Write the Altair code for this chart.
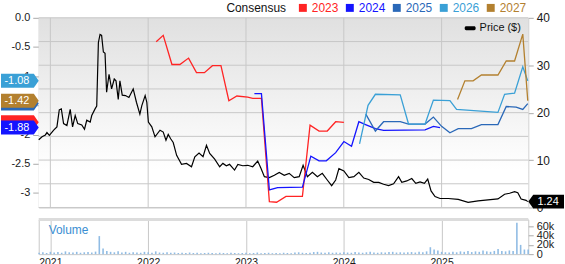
import altair as alt
import pandas as pd

FONT = "Liberation Sans"
GRID = "#c8c8c8"

# ---------------- data ----------------
price_year = [2020.881, 2020.915, 2020.949, 2020.965, 2020.990, 2021.034, 2021.067, 2021.091, 2021.112, 2021.135,
              2021.169, 2021.203, 2021.227, 2021.254, 2021.280, 2021.321, 2021.349, 2021.372, 2021.407, 2021.423,
              2021.457, 2021.474, 2021.491, 2021.508, 2021.524, 2021.542, 2021.559, 2021.575, 2021.600, 2021.626,
              2021.653, 2021.671, 2021.694, 2021.711, 2021.735, 2021.768, 2021.803, 2021.847, 2021.880, 2021.915,
              2021.935, 2021.969, 2021.986, 2022.002, 2022.037, 2022.070, 2022.121, 2022.154, 2022.182, 2022.205,
              2022.230, 2022.256, 2022.291, 2022.341, 2022.392, 2022.443, 2022.477, 2022.520, 2022.561, 2022.596,
              2022.629, 2022.680, 2022.731, 2022.764, 2022.799, 2022.832, 2022.883, 2022.917, 2022.967, 2023.018,
              2023.069, 2023.120, 2023.154, 2023.188, 2023.239, 2023.290, 2023.340, 2023.391, 2023.442, 2023.493,
              2023.544, 2023.584, 2023.628, 2023.679, 2023.730, 2023.780, 2023.831, 2023.876, 2023.917, 2023.950,
              2024.001, 2024.052, 2024.103, 2024.154, 2024.204, 2024.255, 2024.306, 2024.357, 2024.407, 2024.458,
              2024.509, 2024.560, 2024.593, 2024.644, 2024.695, 2024.736, 2024.780, 2024.824, 2024.858, 2024.892,
              2024.933, 2024.984, 2025.068, 2025.170, 2025.271, 2025.373, 2025.474, 2025.576, 2025.644, 2025.695,
              2025.746, 2025.779, 2025.813, 2025.864, 2025.881]
price = [14.3, 14.9, 15.3, 15.8, 15.2, 16.3, 17.0, 20.6, 20.8, 17.7,
         17.3, 20.7, 17.0, 19.4, 17.7, 17.4, 16.5, 18.4, 18.0, 19.4,
         20.8, 21.4, 34.8, 36.5, 36.3, 32.8, 32.5, 24.3, 28.1, 25.0,
         27.1, 26.7, 22.8, 26.7, 23.7, 23.6, 23.2, 25.0, 22.2, 19.7,
         21.5, 23.6, 22.2, 18.0, 17.0, 14.9, 16.3, 15.9, 14.2, 15.4,
         14.5, 13.7, 11.0, 9.1, 9.3, 8.6, 10.7, 11.5, 10.7, 13.1,
         11.4, 10.2, 8.6, 9.3, 8.8, 9.1, 7.9, 9.1, 8.8, 8.9,
         8.6, 9.8, 8.2, 6.5, 6.3, 6.8, 7.4, 6.8, 7.2, 6.3,
         6.5, 8.9, 6.5, 7.4, 6.5, 7.2, 5.8, 4.6, 5.8, 8.2,
         7.7, 6.3, 6.5, 7.4, 6.2, 5.9, 5.3, 5.3, 4.9, 4.6,
         5.0, 6.5, 5.3, 5.6, 6.1, 5.1, 5.4, 5.1, 6.0, 3.5,
         2.3, 1.9, 1.9, 1.7, 1.1, 1.4, 1.6, 1.8, 2.8, 3.0,
         3.35, 3.1, 1.8, 1.5, 1.24]

series_names = ["2023", "2024", "2025", "2026", "2027"]
series_colors = ["#ff2424", "#1414ff", "#2a68b8", "#3aa0d6", "#b3802f"]
badge_label_shown = [False, True, False, True, True]   # 2023 / 2025 badges sit behind others

eps23_year = [2022.082, 2022.154, 2022.243, 2022.324, 2022.413, 2022.494, 2022.575, 2022.657, 2022.744, 2022.825,
              2022.907, 2023.018, 2023.069, 2023.158, 2023.239, 2023.313, 2023.409, 2023.577, 2023.655, 2023.747,
              2023.831, 2023.917, 2024.001]
eps23 = [-0.41, -0.30, -0.80, -0.80, -0.69, -0.94, -0.94, -0.82, -0.82, -1.42,
         -1.34, -1.36, -1.38, -1.38, -3.15, -3.16, -3.06, -3.06, -1.84, -1.94,
         -1.94, -1.78, -1.79]
eps24_year = [2023.086, 2023.158, 2023.239, 2023.323, 2023.577, 2023.663, 2023.747, 2023.821, 2023.917, 2024.001,
              2024.079, 2024.154, 2024.222, 2024.323, 2024.407, 2024.831, 2024.916, 2024.984]
eps24 = [-1.30, -1.30, -2.95, -2.91, -2.90, -2.37, -2.45, -2.45, -2.31, -2.12,
         -2.20, -1.78, -1.83, -1.90, -1.93, -1.92, -1.86, -1.88]
eps25_year = [2024.225, 2024.323, 2024.407, 2024.577, 2024.662, 2024.831, 2024.916, 2025.000, 2025.085, 2025.170,
              2025.305, 2025.407, 2025.576, 2025.661, 2025.762, 2025.830, 2025.881]
eps25 = [-1.65, -1.94, -1.78, -1.78, -1.82, -1.82, -1.70, -1.86, -1.97, -1.90,
         -1.90, -1.83, -1.83, -1.52, -1.53, -1.57, -1.47]
eps26_year = [2024.161, 2024.248, 2024.323, 2024.577, 2024.662, 2024.831, 2024.916, 2025.085, 2025.153, 2025.576,
              2025.644, 2025.746, 2025.830, 2025.881]
eps26 = [-2.16, -1.50, -1.31, -1.32, -1.82, -1.82, -1.41, -1.42, -1.57, -1.62,
         -1.31, -1.29, -0.84, -1.08]
eps27_year = [2025.163, 2025.238, 2025.322, 2025.407, 2025.576, 2025.661, 2025.746, 2025.830, 2025.881]
eps27 = [-1.40, -1.08, -1.08, -0.98, -0.98, -0.74, -0.74, -0.28, -1.42]

# biweekly volume, starting late 2020
volume = [3000, 4000, 2500, 5000, 3500, 4500, 3000, 6000, 4000, 3500, 5000, 3000, 4000, 4500, 3500, 5500,
          39000, 12000, 7000, 5000, 4000, 6000, 3500, 5000, 3000, 4000, 3500, 3000, 5000, 4000, 3000, 6000,
          3500, 3000, 4000, 3000, 3500, 2500, 3000, 2500, 3500, 2500, 3000, 2000, 2500, 3000, 2500, 2000,
          3000, 2500, 2000, 3000, 2500,
          2000, 2500, 3000, 2000, 2500, 3500, 2000, 2500, 3000, 2000, 2500, 2000, 3000, 2500, 2000, 3500,
          4000, 3000, 2500, 3000, 4500, 5000, 3500, 3000, 4000, 3000,
          3500, 3000, 4000, 3500, 3000, 4500, 3500, 3000, 4000, 5000, 3500, 3000, 4000, 3500, 4500, 5000,
          3500, 4000, 3500, 4000, 4500, 3500, 5000, 4000, 6000,
          15000, 10000, 8000, 5000, 4000, 3500, 5000, 4000, 6000, 5000, 7000, 4500, 6000, 5000, 8000, 6000,
          5000, 7000, 11000, 7000, 6000, 8000, 7000, 68000, 20000, 10000, 10000]
vol_start = 2020.885
year_ticks = [2021, 2022, 2023, 2024, 2025]
price_ticks = [0, 5, 10, 15, 20, 25, 30, 35, 40]
eps_ticks = [0, -0.5, -1, -1.5, -2, -2.5, -3]
vol_ticks = [0, 20000, 40000, 60000]

# ---------------- frames ----------------
price_df = pd.DataFrame({"yr": price_year, "price": price})
eps_sets = [(eps23_year, eps23), (eps24_year, eps24), (eps25_year, eps25), (eps26_year, eps26), (eps27_year, eps27)]
eps_df = pd.concat([pd.DataFrame({"yr": y, "eps": v, "series": n, "order": range(len(v))})
                    for (y, v), n in zip(eps_sets, series_names)], ignore_index=True)
vol_df = pd.DataFrame({"yr": [vol_start + i / 26 for i in range(len(volume))], "vol": volume})
one = pd.DataFrame({"a": [0]})
yt_df = pd.DataFrame({"yr": year_ticks})
pt_df = pd.DataFrame({"price": price_ticks})

W, H = 493, 191
VH = 35
xscale = alt.Scale(domain=[2020.881, 2025.886], nice=False, zero=False)
xnone = alt.Axis(values=year_ticks, labels=False, ticks=False, domain=False, grid=False, title=None)
eps_scale = alt.Scale(domain=[-3.25, 0], nice=False, zero=False)
price_scale = alt.Scale(domain=[0, 40], nice=False, zero=True)
eps_axis = alt.Axis(orient="left", values=eps_ticks, labelOverlap=False,
                    labelExpr="datum.value == 0 ? '0.0' : '' + datum.value",
                    grid=False, domain=False, tickSize=6, tickColor="#aaaaaa",
                    labelFontSize=11, labelPadding=3, title=None)

LEFT_BADGE = "M-1,-0.37 L0.74,-0.37 L1,0 L0.74,0.37 L-1,0.37 Z"
RIGHT_BADGE = "M-1,0 L-0.72,-0.39 L1,-0.39 L1,0.39 L-0.72,0.39 Z"

# ---------------- background + grid ----------------
gradient = alt.LinearGradient(gradient="linear",
                              stops=[alt.GradientStop(offset=0, color="#e0e0e0"),
                                     alt.GradientStop(offset=0.8, color="#ffffff")],
                              x1=0, x2=0, y1=0, y2=1)
bg = alt.Chart(one).mark_rect(fill=gradient).encode(
    x=alt.value(0), x2=alt.value(W), y=alt.value(0), y2=alt.value(H))
vgrid = alt.Chart(yt_df).mark_rule(color=GRID, strokeWidth=1).encode(
    x=alt.X("yr:Q", scale=xscale, axis=xnone), y=alt.value(0), y2=alt.value(H))

# ---------------- price group (right axis) ----------------
hgrid = alt.Chart(pt_df).mark_rule(color=GRID, strokeWidth=1).encode(
    y=alt.Y("price:Q", scale=price_scale,
            axis=alt.Axis(orient="right", values=price_ticks, grid=False, labelOverlap=False,
                          domain=False, tickSize=5, tickColor="#aaaaaa", labelFontSize=12,
                          labelPadding=3, title=None)),
    x=alt.value(0), x2=alt.value(W))
price_line = alt.Chart(price_df).mark_line(color="black", strokeWidth=1.2).encode(
    x=alt.X("yr:Q", scale=xscale, axis=xnone),
    y=alt.Y("price:Q", scale=price_scale),
)
last_df = pd.DataFrame({"price": [price[-1]], "label": [f"{price[-1]:.2f}"]})
price_badge = alt.Chart(last_df).mark_point(shape=RIGHT_BADGE, size=1296, filled=True, opacity=1,
                                            color="black", strokeWidth=0).encode(
    x=alt.value(W + 18), y=alt.Y("price:Q", scale=price_scale))
price_text = alt.Chart(last_df).mark_text(color="white", fontSize=11, font=FONT, align="center",
                                          baseline="middle").encode(
    x=alt.value(W + 20), y=alt.Y("price:Q", scale=price_scale), text="label:N")
price_group = alt.layer(hgrid, price_line, price_badge, price_text)

# ---------------- EPS group (left axis) ----------------
eps_lines = alt.Chart(eps_df).mark_line(strokeWidth=1.3).encode(
    x=alt.X("yr:Q", scale=xscale, axis=xnone),
    y=alt.Y("eps:Q", scale=eps_scale, axis=eps_axis),
    color=alt.Color("series:N", scale=alt.Scale(domain=series_names, range=series_colors), legend=None),
    order="order:Q",
)

eps_layers = [eps_lines]
for (yrs, vals), name, col, shown in zip(eps_sets, series_names, series_colors, badge_label_shown):
    d = pd.DataFrame({"eps": [vals[-1]], "label": [f"{vals[-1]:.2f}" if shown else ""]})
    eps_layers.append(alt.Chart(d).mark_point(shape=LEFT_BADGE, size=1444, filled=True, opacity=1,
                                              color=col, strokeWidth=0).encode(
        x=alt.value(-19), y=alt.Y("eps:Q", scale=eps_scale, axis=eps_axis)))
    eps_layers.append(alt.Chart(d).mark_text(color="white", fontSize=11, font=FONT, align="center",
                                             baseline="middle").encode(
        x=alt.value(-22), y=alt.Y("eps:Q", scale=eps_scale, axis=eps_axis), text="label:N"))
eps_group = alt.layer(*eps_layers)

# ---------------- legends (annotations) ----------------
legend_layers = [
    alt.Chart(one).mark_text(text="Consensus", fontSize=12, font=FONT, color="#111111",
                             align="left", baseline="top").encode(x=alt.value(189), y=alt.value(-15))
]
for i, (name, col) in enumerate(zip(series_names, series_colors)):
    sx = 266 + 47.3 * i
    legend_layers.append(alt.Chart(one).mark_rect(color=col).encode(
        x=alt.value(sx - 4), x2=alt.value(sx + 4), y=alt.value(-14), y2=alt.value(-6)))
    legend_layers.append(alt.Chart(one).mark_text(text=name, fontSize=12, font=FONT, color=col,
                                                  align="left", baseline="top").encode(
        x=alt.value(sx + 9), y=alt.value(-15)))
legend_layers.append(alt.Chart(one).mark_rect(color="black", cornerRadius=1.5).encode(
    x=alt.value(W - 64), x2=alt.value(W - 53), y=alt.value(8.5), y2=alt.value(12.5)))
legend_layers.append(alt.Chart(one).mark_text(text="Price ($)", fontSize=11, font=FONT, color="#111111",
                                              align="left", baseline="middle").encode(
    x=alt.value(W - 49), y=alt.value(10.5)))

top = alt.layer(bg, vgrid, price_group, eps_group, *legend_layers).resolve_scale(
    y="independent").properties(width=W, height=H)

# ---------------- volume panel ----------------
vol_bars = alt.Chart(vol_df).mark_rule(strokeWidth=1.6, color="#90bce4").encode(
    x=alt.X("yr:Q", scale=xscale,
            axis=alt.Axis(values=year_ticks, format="d", grid=True, gridColor=GRID, ticks=False,
                          domain=False, labelFontSize=10.5, labelPadding=3, title=None)),
    y=alt.Y("vol:Q", scale=alt.Scale(domain=[0, 75000], nice=False),
            axis=alt.Axis(orient="right", values=vol_ticks, labelOverlap=False,
                          labelExpr="datum.value == 0 ? '0' : (datum.value / 1000) + 'k'",
                          grid=False, domain=False, tickSize=5, tickColor="#aaaaaa",
                          labelFontSize=11, labelPadding=3, title=None)),
    y2=alt.datum(0),
)
vol_label = alt.Chart(one).mark_text(text="Volume", fontSize=12, font=FONT, color="#3a8ed2",
                                     align="left", baseline="alphabetic").encode(
    x=alt.value(10), y=alt.value(14.5))
vol_band = alt.Chart(one).mark_rule(color="#dcdcdc", strokeWidth=3).encode(
    x=alt.value(0), x2=alt.value(W), y=alt.value(0))

bottom = alt.layer(vol_bars, vol_label, vol_band).properties(width=W, height=VH)

chart = alt.vconcat(top, bottom, spacing=12, bounds="flush").properties(
    padding=0, background="white"
).configure_axis(labelFont=FONT, labelColor="#1a1a1a", labelOverlap=False).configure_view(stroke=GRID)

chart.save("out.html", embed_options={"renderer": "svg", "actions": False})
